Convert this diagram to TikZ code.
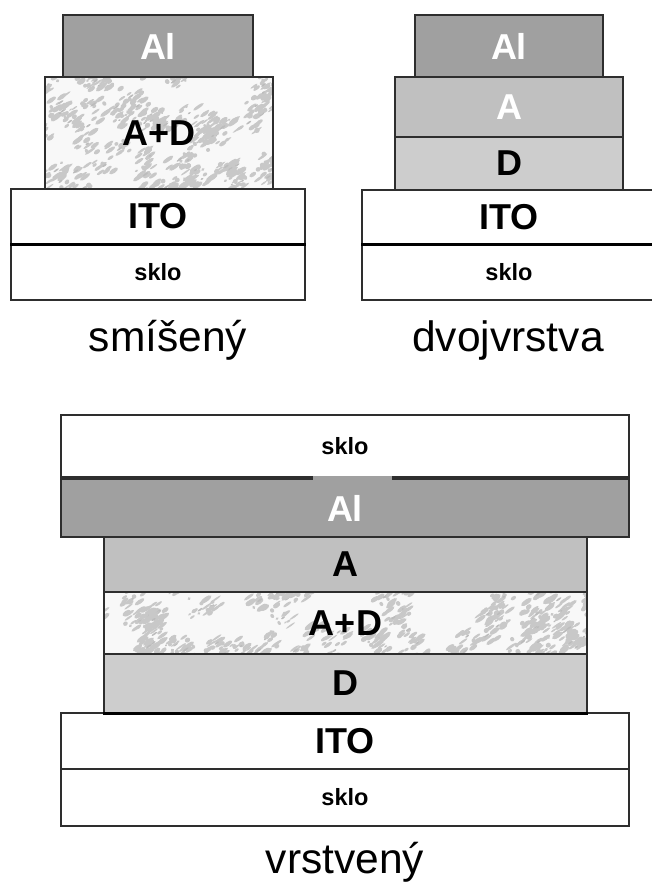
\documentclass[tikz,border=0pt]{standalone}
\usepackage{fontspec}
\setmainfont{Liberation Sans}
\definecolor{linec}{HTML}{2E2E2E}
\definecolor{alfill}{HTML}{A0A0A0}
\definecolor{afill}{HTML}{C0C0C0}
\definecolor{dfill}{HTML}{CDCDCD}
\definecolor{mottlebg}{HTML}{F8F8F8}
\definecolor{mottlefg}{HTML}{C8C8C8}
\definecolor{mottledk}{HTML}{BCBCBC}
% own pseudo-random generator (Wichmann-Hill), global state
\newcount\wha \newcount\whb \newcount\whc \newcount\wht
\newcommand\whstep[3]{%
  \global\multiply#1 by #2
  \wht=#1 \divide\wht by #3 \multiply\wht by #3
  \global\advance#1 by -\wht}
\newcommand\myrnd[1]{%
  \whstep\wha{171}{30269}\whstep\whb{172}{30307}\whstep\whc{170}{30323}%
  \wht=\wha \divide\wht by 2 \edef\whta{\the\wht}%
  \wht=\whb \divide\wht by 2 \edef\whtb{\the\wht}%
  \wht=\whc \divide\wht by 2 \edef\whtc{\the\wht}%
  \pgfmathsetmacro#1{mod(\whta/15134.5+\whtb/15153.5+\whtc/15161.5,1)}}
% texture: x0 y0 width height seed
\newcommand\mottletex[5]{%
  \begin{scope}
    \clip (#1,#2) rectangle ++(#3,#4);
    \fill[mottlebg] (#1,#2) rectangle ++(#3,#4);
    \global\wha=#5 \global\whb=\numexpr#5+777\relax \global\whc=\numexpr#5+4321\relax
    \pgfmathtruncatemacro\nclus{#3/20*#4/20}
    \foreach \k in {1,...,\nclus}{
      \myrnd\ua \myrnd\ub
      \pgfmathsetmacro\cx{#1-10+\ua*(#3+20)}
      \pgfmathsetmacro\cy{#2-6+\ub*(#4+12)}
      \foreach \j in {1,...,10}{
        \myrnd\uc \myrnd\ud \myrnd\ue \myrnd\uf
        \pgfmathsetmacro\bx{\cx+(\uc-0.5)*24}
        \pgfmathsetmacro\by{\cy+(\ud-0.5)*16}
        \pgfmathsetmacro\ra{1.5+5*\ue}
        \pgfmathsetmacro\rb{0.8+1.8*\uf}
        \fill[mottlefg, shift={(\bx,\by)}, rotate=35] (0,0) ellipse [x radius=\ra, y radius=\rb];
      }
      \myrnd\ug
      \pgfmathsetmacro\ra{1+2.5*\ug}
      \fill[mottledk, shift={(\cx,\cy)}, rotate=35] (0,0) ellipse [x radius=\ra, y radius=0.9];
    }
  \end{scope}}
\tikzset{
  layer/.style={draw=linec, line width=1.5pt, inner sep=0pt, text=black,
    font=\bfseries\fontsize{36}{36}\selectfont},
  thin layer/.style={layer, font=\bfseries\fontsize{23.5}{23.5}\selectfont},
  sz/.style 2 args={minimum width=#1, minimum height=#2},
  caption/.style={anchor=base, font=\fontsize{42.5}{42.5}\selectfont, inner sep=0pt},
  thickline/.style={draw=black, line width=2.6pt}
}
\begin{document}
\begin{tikzpicture}[x=1pt, y=-1pt]
\useasboundingbox (0,0) rectangle (651,888);
% ---------- smíšený ----------
\node[thin layer, sz={294pt}{56pt}, fill=white] (skloL) at (158,272) {sklo};
\node[layer, sz={294pt}{55pt}, fill=white] (itoL) at (158,216.5) {ITO};
\draw[thickline] (itoL.south west) -- (itoL.south east);
\mottletex{45}{77}{228}{112}{1234}
\node[layer, sz={228pt}{112pt}] (adL) at (159,133) {A+D};
\node[layer, sz={190pt}{62pt}, fill=alfill, text=white] (alL) at (158,46) {Al};
\node[caption] (capL) at (168,351) {smíšený};
% ---------- dvojvrstva ----------
\node[thin layer, sz={294pt}{56pt}, fill=white] (skloR) at (509,272) {sklo};
\node[layer, sz={294pt}{54pt}, fill=white] (itoR) at (509,217) {ITO};
\draw[thickline] (itoR.south west) -- (itoR.south east);
\node[layer, sz={228pt}{53pt}, fill=dfill] (dR) at (509,163.5) {D};
\node[layer, sz={228pt}{60pt}, fill=afill, text=white] (aR) at (509,107) {A};
\node[layer, sz={188pt}{62pt}, fill=alfill, text=white] (alR) at (509,46) {Al};
\node[caption] (capR) at (508,351) {dvojvrstva};
% ---------- vrstvený ----------
\node[thin layer, sz={568pt}{57pt}, fill=white] (skloB) at (345,797.5) {sklo};
\node[layer, sz={568pt}{56pt}, fill=white] (itoB) at (345,741) {ITO};
\node[layer, sz={483pt}{59pt}, fill=dfill] (dB) at (345.5,683.5) {D};
\draw[thickline] (dB.south west) -- (dB.south east);
\mottletex{104}{592}{483}{62}{20011}
\node[layer, sz={483pt}{62pt}] (adB) at (345.5,623) {A+D};
\node[layer, sz={483pt}{55pt}, fill=afill] (aB) at (345.5,564.5) {A};
\node[layer, sz={568pt}{58pt}, fill=alfill, text=white] (alB) at (345,508) {Al};
\node[thin layer, sz={568pt}{62pt}, fill=white] (skloT) at (345,446) {sklo};
\fill[alfill] (313,475.6) rectangle (392,479.8);
\node[caption] (capB) at (345,873) {vrstvený};
\end{tikzpicture}
\end{document}
